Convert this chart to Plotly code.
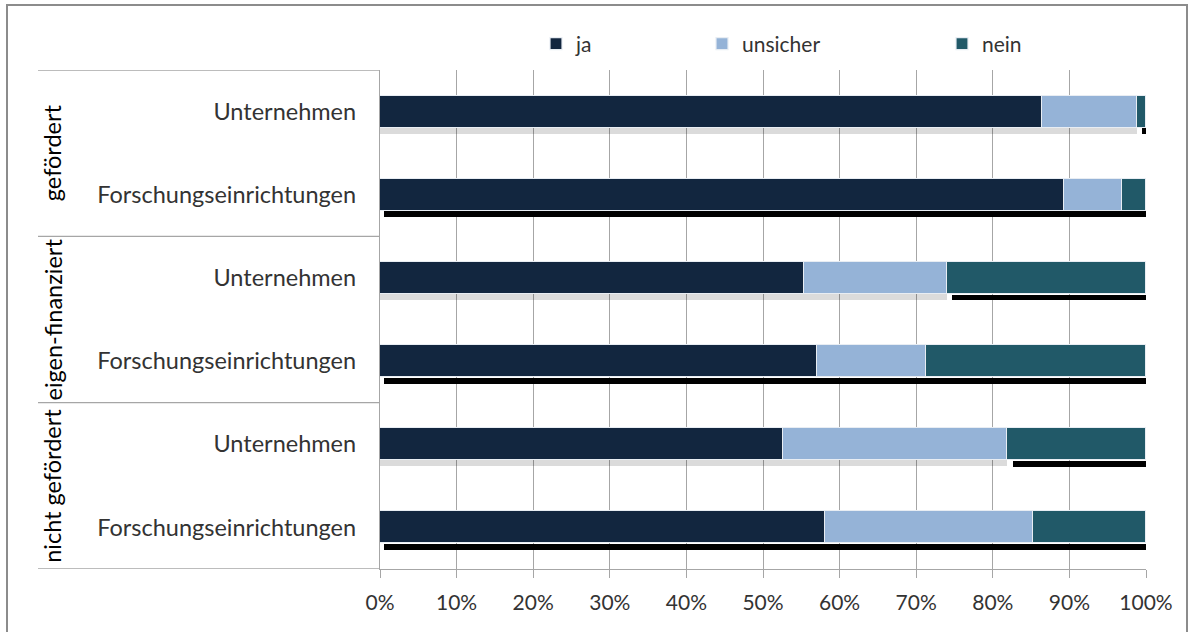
import plotly.graph_objects as go

groups = ["gefördert", "eigen-finanziert", "nicht gefördert"]
categories = ["Unternehmen", "Forschungseinrichtungen"] * 3
series_names = ["ja", "unsicher", "nein"]
ja = [86.4, 89.3, 55.4, 57.0, 52.6, 58.1]
unsicher = [12.4, 7.6, 18.6, 14.3, 29.3, 27.1]
nein = [1.2, 3.1, 26.0, 28.7, 18.1, 14.8]
shadow_start = [99.5, 0.5, 74.7, 0.5, 82.7, 0.5]
x_ticks = [0, 10, 20, 30, 40, 50, 60, 70, 80, 90, 100]
x_ticklabels = [f"{v}%" for v in x_ticks]

colors = ["#12263f", "#95b3d7", "#215968"]
FONT = "Lato"
TXT = "#333333"

ypos = list(range(len(categories)))
fig = go.Figure()

# soft shadow under the Unternehmen bars
soft_x = [a + b if c == "Unternehmen" else 0 for a, b, c in zip(ja, unsicher, categories)]
fig.add_trace(go.Bar(y=ypos, x=soft_x, orientation="h", base=0,
                     width=0.07, offset=0.195, marker=dict(color="rgba(0,0,0,0.14)", line=dict(width=0)),
                     showlegend=False, hoverinfo="skip"))
# black shadow
fig.add_trace(go.Bar(y=ypos, x=[100 - s for s in shadow_start], base=shadow_start, orientation="h",
                     width=0.07, offset=0.2, marker=dict(color="#000000", line=dict(width=0)),
                     showlegend=False, hoverinfo="skip"))

legends = ["legend", "legend2", "legend3"]
for name, vals, col, lg in zip(series_names, [ja, unsicher, nein], colors, legends):
    fig.add_trace(go.Bar(y=ypos, x=vals, orientation="h", name=name,
                         width=0.385, marker=dict(color=col, line=dict(color="#e8edf3", width=1.2)),
                         legend=lg))

def px2paper_x(px):
    return (px - 380) / 766

def px2paper_y(py):
    return (569 - py) / 499

leg_common = dict(orientation="h", font=dict(family=FONT, size=21, color=TXT),
                  bgcolor="rgba(0,0,0,0)", xanchor="left", yanchor="middle",
                  itemwidth=30, tracegroupgap=0)
fig.update_layout(
    legend=dict(x=px2paper_x(536), y=px2paper_y(44), **leg_common),
    legend2=dict(x=px2paper_x(702), y=px2paper_y(44), **leg_common),
    legend3=dict(x=px2paper_x(942), y=px2paper_y(44), **leg_common),
)

fig.update_layout(
    barmode="stack",
    width=1189, height=632,
    margin=dict(l=380, r=43, t=70, b=63),
    paper_bgcolor="white", plot_bgcolor="white",
    font=dict(family=FONT, color=TXT, size=20),
    bargap=0,
)

fig.update_xaxes(range=[0, 100], tickvals=x_ticks, ticktext=x_ticklabels,
                 showgrid=True, gridcolor="#a6a6a6", gridwidth=1.3,
                 showline=True, linecolor="#a6a6a6", linewidth=1.3,
                 ticks="outside", ticklen=8, tickcolor="#a6a6a6", tickwidth=1.3,
                 ticklabelstandoff=7,
                 tickfont=dict(family=FONT, size=21, color=TXT), zeroline=False,
                 fixedrange=True)
fig.update_yaxes(range=[5.5, -0.5], tickvals=ypos, ticktext=categories,
                 showgrid=False, showline=True, linecolor="#a6a6a6", linewidth=1.3,
                 ticks="", ticklabelstandoff=18,
                 tickfont=dict(family=FONT, size=23.5, color=TXT), zeroline=False,
                 fixedrange=True)

# group separators and group labels
n_per = 2
for gi in range(len(groups) + 1):
    yb = gi * n_per - 0.5
    fig.add_shape(type="line", xref="paper", yref="y", x0=px2paper_x(38), x1=0,
                  y0=yb, y1=yb, line=dict(color="#a6a6a6", width=1.3))
for gi, g in enumerate(groups):
    yc = gi * n_per + (n_per - 1) / 2
    fig.add_annotation(xref="paper", yref="y", x=px2paper_x(36), y=yc, text=g,
                       textangle=-90, showarrow=False,
                       font=dict(family=FONT, size=23.5, color="#000000"))

# outer border
fig.add_shape(type="rect", xref="paper", yref="paper",
              x0=px2paper_x(7), x1=px2paper_x(1187), y0=px2paper_y(640), y1=px2paper_y(5),
              line=dict(color="#8c8c8c", width=2), layer="below")

fig.write_html("out.html", config={"displayModeBar": False},
               post_script="document.body.style.margin='0';")
